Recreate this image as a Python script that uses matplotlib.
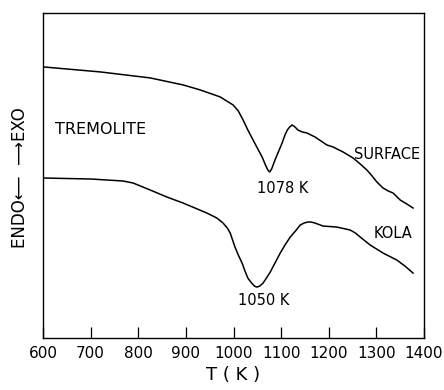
import matplotlib.pyplot as plt
import numpy as np

# DTA curves for tremolite (T in K, signal in arbitrary units)
surface_T = [600, 720, 825, 894, 930, 972, 999, 1010, 1020, 1030, 1041, 1051, 1060, 1067,
             1072, 1076, 1080, 1087, 1095, 1102, 1108, 1113, 1118, 1123, 1129, 1135, 1144,
             1154, 1171, 1196, 1209, 1230, 1251, 1266, 1280, 1291, 1301, 1314, 1325, 1335,
             1350, 1364, 1377]
surface_v = [271, 266, 260, 253, 248, 241, 233, 227, 218, 208, 198, 189, 181, 173,
             168, 166, 169, 178, 187, 195, 203, 208, 211, 213, 211, 208, 206,
             205, 201, 193, 191, 186, 180, 174, 168, 162, 156, 150, 147, 145,
             138, 134, 130]

kola_T = [600, 700, 768, 789, 825, 860, 894, 944, 965, 978, 987, 993, 998, 1003, 1010, 1018,
          1024, 1030, 1038, 1044, 1049, 1055, 1062, 1069, 1077, 1087, 1098, 1108, 1119,
          1130, 1140, 1148, 1156, 1163, 1171, 1188, 1217, 1245, 1256, 1266, 1287, 1314,
          1343, 1360, 1377]
kola_v = [160, 159, 157, 155, 148, 141, 135, 125, 120, 115, 110, 105, 98, 91, 83, 75,
          67, 60, 55, 52, 51, 52, 55, 60, 66, 75, 85, 93, 101,
          107, 113, 115, 116, 116, 115, 112, 111, 108, 105, 101, 93, 85,
          78, 72, 65]

xticks = [600, 700, 800, 900, 1000, 1100, 1200, 1300, 1400]
xtick_labels = ['600', '700', '800', '900', '1000', '1100', '1200', '1300', '1400']

plt.rcParams['font.family'] = ['DejaVu Sans']

fig = plt.figure(figsize=(4.44, 3.9), dpi=100)
ax = fig.add_axes([0.097, 0.133, 0.858, 0.834])

ax.plot(surface_T, surface_v, color='black', lw=1.1, solid_joinstyle='round')
ax.plot(kola_T, kola_v, color='black', lw=1.1, solid_joinstyle='round')

ax.set_xlim(600, 1400)
ax.set_ylim(0, 325)
ax.set_xticks(xticks)
ax.set_xticklabels(xtick_labels)
ax.set_yticks([])
ax.tick_params(axis='x', direction='in', length=8, width=0.9, labelsize=11, pad=6)
for s in ax.spines.values():
    s.set_linewidth(1.0)

ax.text(625, 208, 'TREMOLITE', fontsize=11.5, va='center', ha='left')
ax.text(1322, 183, 'SURFACE', fontsize=10.5, va='center', ha='center')
ax.text(1104, 150, '1078 K', fontsize=10.5, va='center', ha='center')
ax.text(1335, 105, 'KOLA', fontsize=10.5, va='center', ha='center')
ax.text(1064, 38, '1050 K', fontsize=10.5, va='center', ha='center')

ax.set_xlabel('T ( K )', fontsize=13, labelpad=3)
fig.text(0.045, 0.545, 'ENDO\u27f5  \u27f6EXO', rotation=90, fontsize=12,
         va='center', ha='center')

fig.savefig('out.png', dpi=100)
